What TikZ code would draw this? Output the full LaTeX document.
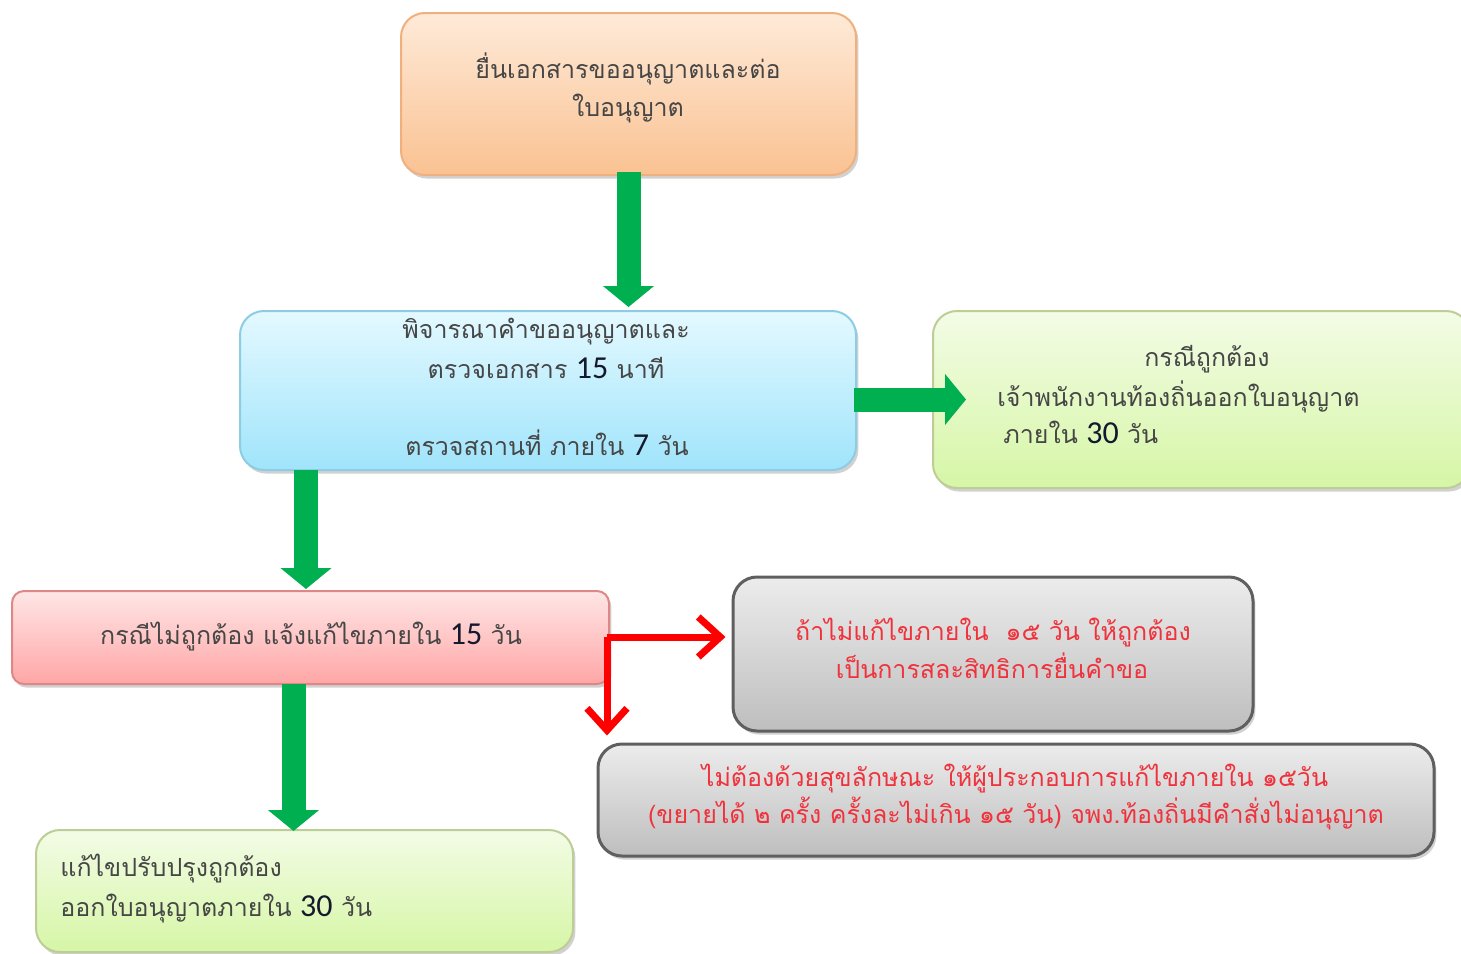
\documentclass[tikz,border=0pt]{standalone}
\usepackage{fontspec}
\setmainfont{Liberation Sans}
\newfontfamily\thaifont[Script=Thai]{Loma}
\newfontfamily\numfont{Carlito}
\usetikzlibrary{arrows.meta,shadows}
\definecolor{oTop}{RGB}{254,234,216}
\definecolor{oBot}{RGB}{250,194,146}
\definecolor{oBd}{RGB}{240,176,126}
\definecolor{bTop}{RGB}{228,249,255}
\definecolor{bBot}{RGB}{160,228,251}
\definecolor{bBd}{RGB}{140,205,228}
\definecolor{gTop}{RGB}{243,252,230}
\definecolor{gBot}{RGB}{214,246,166}
\definecolor{gBd}{RGB}{190,205,150}
\definecolor{rTop}{RGB}{255,230,230}
\definecolor{rBot}{RGB}{255,166,166}
\definecolor{rBd}{RGB}{222,135,135}
\definecolor{yTop}{RGB}{236,236,236}
\definecolor{yBot}{RGB}{190,190,190}
\definecolor{yBd}{RGB}{95,95,95}
\definecolor{arrGreen}{RGB}{0,176,80}
\definecolor{txtGrey}{RGB}{70,70,70}
\definecolor{numDark}{RGB}{20,25,45}
\definecolor{txtRed}{RGB}{240,50,60}
\newcommand\nb[1]{{\numfont\fontsize{16}{16}\selectfont\color{numDark}#1}}
\tikzset{
  boxbase/.style={rounded corners=12pt, inner sep=0pt, line width=1pt,
    drop shadow={shadow xshift=1.2pt, shadow yshift=-1.8pt, opacity=0.3, fill=black!60}},
  obox/.style={boxbase, draw=oBd, top color=oTop, bottom color=oBot},
  bbox/.style={boxbase, draw=bBd, top color=bTop, bottom color=bBot},
  gbox/.style={boxbase, draw=gBd, top color=gTop, bottom color=gBot},
  rbox/.style={boxbase, rounded corners=6pt, draw=rBd, top color=rTop, bottom color=rBot},
  ybox/.style={boxbase, line width=1.5pt, draw=yBd, top color=yTop, bottom color=yBot},
  txt/.style={font=\thaifont\fontsize{12.5}{15}\selectfont, text=txtGrey, inner sep=0pt,
    text height=10pt, text depth=2pt},
  rtxt/.style={txt, text=txtRed},
  garrow/.style={draw=arrGreen, line width=12pt, -{Triangle[length=10.5pt,width=25pt]}},
  rarrow/.style={draw=red, line width=3.5pt, -{Straight Barb[length=11pt,width=20pt]}}
}
\begin{document}
\begin{tikzpicture}[x=0.5pt,y=-0.5pt]
\useasboundingbox (0,0) rectangle (1461,953);
% boxes
\node[obox, minimum width=227.5pt, minimum height=81pt] (b1) at (628.5,94) {};
\node[bbox, minimum width=308pt, minimum height=79.5pt] (b2) at (548,390.5) {};
\node[gbox, minimum width=268.5pt, minimum height=88.5pt] (b3) at (1201.5,399.5) {};
\node[rbox, minimum width=298.5pt, minimum height=46.5pt] (b4) at (310.5,637.5) {};
\node[ybox, minimum width=260pt, minimum height=77pt] (b5) at (993,654) {};
\node[ybox, minimum width=418pt, minimum height=56pt] (b6) at (1016,800) {};
\node[gbox, minimum width=268.5pt, minimum height=61pt] (b7) at (304.5,891) {};
% texts
\node[txt] (t1a) at (628,70) {ยื่นเอกสารขออนุญาตและต่อ};
\node[txt] (t1b) at (628,108) {ใบอนุญาต};
\node[txt] (t2a) at (546,330) {พิจารณาคำขออนุญาตและ};
\node[txt] (t2b) at (546,370) {ตรวจเอกสาร \nb{15} นาที};
\node[txt] (t2c) at (547,447) {ตรวจสถานที่ ภายใน \nb{7} วัน};
\node[txt] (t3a) at (1207,358) {กรณีถูกต้อง};
\node[txt, anchor=west] (t3b) at (997,398) {เจ้าพนักงานท้องถิ่นออกใบอนุญาต};
\node[txt, anchor=west] (t3c) at (1003,435) {ภายใน \nb{30} วัน};
\node[txt] (t4) at (311,636) {กรณีไม่ถูกต้อง แจ้งแก้ไขภายใน \nb{15} วัน};
\node[rtxt] (t5a) at (993,632) {ถ้าไม่แก้ไขภายใน \ ๑๕ วัน ให้ถูกต้อง};
\node[rtxt] (t5b) at (992,670) {เป็นการสละสิทธิการยื่นคำขอ};
\node[rtxt] (t6a) at (1015,778) {ไม่ต้องด้วยสุขลักษณะ ให้ผู้ประกอบการแก้ไขภายใน ๑๕วัน};
\node[rtxt] (t6b) at (1016,815) {(ขยายได้ ๒ ครั้ง ครั้งละไม่เกิน ๑๕ วัน) จพง.ท้องถิ่นมีคำสั่งไม่อนุญาต};
\node[txt, anchor=west] (t7a) at (60,868) {แก้ไขปรับปรุงถูกต้อง};
\node[txt, anchor=west] (t7b) at (60,908) {ออกใบอนุญาตภายใน \nb{30} วัน};
% green arrows
\draw[garrow, shorten >=1.5pt] ([yshift=2pt]b1.south) -- (b2.north -| b1.south);
\draw[garrow] ([xshift=-1.5pt]b2.east |- b3.west) -- ([xshift=17pt]b3.west);
\coordinate (a3) at (306,470);
\draw[garrow] (a3) -- ([yshift=0.5pt]a3 |- b4.north);
\coordinate (a4) at (293.5,684);
\draw[garrow] (a4) -- ([yshift=-1pt]a4 |- b7.north);
% red arrows
\coordinate (rc) at (607,637);
\draw[rarrow, line cap=square] (rc) -- ([xshift=-3pt]rc -| b5.west);
\draw[rarrow, line cap=square] (rc) -- ([yshift=3.5pt]rc |- b6.north);
\end{tikzpicture}
\end{document}
